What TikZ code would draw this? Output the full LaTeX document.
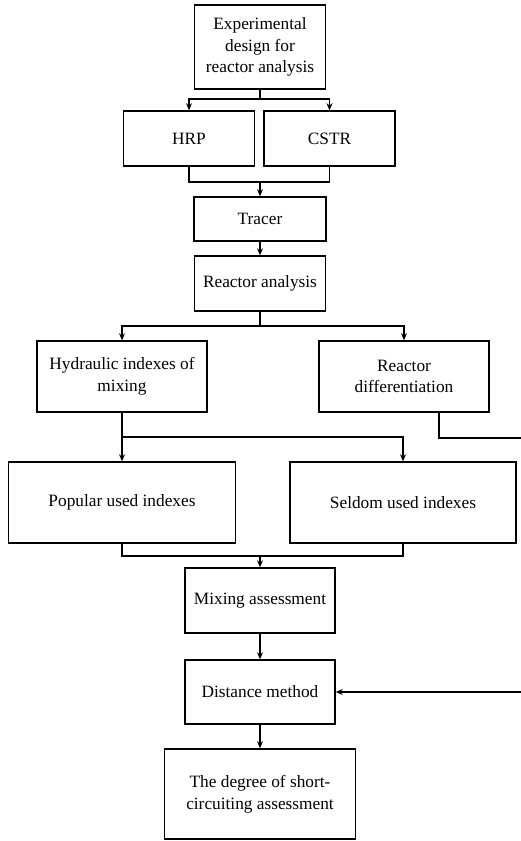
\documentclass[tikz,border=0pt]{standalone}
\usepackage{fontspec}
\setmainfont{Liberation Serif}
\usetikzlibrary{arrows.meta}
\begin{document}
\begin{tikzpicture}[x=1pt,y=-1pt,
  box/.style={draw, line width=1.5pt, align=center, inner sep=0pt,
    font=\fontsize{17.3}{21.7}\selectfont},
  conn/.style={line width=1.5pt},
  arr/.style={line width=1.5pt, -{Stealth[length=7pt,width=6pt]}}]
\useasboundingbox (0,0) rectangle (521,841);
\node[box, minimum width=131pt, minimum height=84pt] (top) at (260,47) {Experimental\\design for\\reactor analysis};
\node[box, minimum width=131pt, minimum height=55pt] (hrp) at (189,138.5) {HRP};
\node[box, minimum width=131pt, minimum height=55pt] (cstr) at (329.5,138.5) {CSTR};
\node[box, minimum width=132pt, minimum height=44pt] (tracer) at (260,219) {Tracer};
\node[box, minimum width=131pt, minimum height=55pt] (ra) at (260,283.5) {Reactor analysis};
\node[box, minimum width=170pt, minimum height=71pt] (hyd) at (122,376.5) {Hydraulic indexes of\\mixing};
\node[box, minimum width=170pt, minimum height=71pt] (rd) at (404,376.5) {Reactor\\differentiation};
\node[box, minimum width=227pt, minimum height=81pt] (pop) at (122,502.5) {Popular used indexes};
\node[box, minimum width=226pt, minimum height=81pt] (sel) at (403,502.5) {Seldom used indexes};
\node[box, minimum width=150pt, minimum height=65pt] (mix) at (260,600.5) {Mixing assessment};
\node[box, minimum width=150pt, minimum height=64pt] (dist) at (260,692) {Distance method};
\node[box, minimum width=191pt, minimum height=90pt] (deg) at (260,794) {The degree of short-\\circuiting assessment};
\coordinate (j1) at (260,99);
\coordinate (j2) at (260,182);
\coordinate (j3) at (260,326);
\coordinate (j4) at (122,437);
\coordinate (j5) at (260,556);
\coordinate (e1) at (522,438);
\coordinate (e2) at (522,692);
\draw[conn] (top.south) -- (j1);
\draw[arr] (j1) -| (hrp.north);
\draw[arr] (j1) -| (cstr.north);
\draw[conn] (hrp.south) |- (j2) -| (cstr.south);
\draw[arr] (j2) -- (tracer.north);
\draw[arr] (tracer.south) -- (ra.north);
\draw[conn] (ra.south) -- (j3);
\draw[arr] (j3) -| (hyd.north);
\draw[arr] (j3) -| (rd.north);
\draw[arr] (hyd.south) -- (pop.north);
\draw[arr] (j4) -| (sel.north);
\draw[conn] (pop.south) |- (j5) -| (sel.south);
\draw[arr] (j5) -- (mix.north);
\draw[arr] (mix.south) -- (dist.north);
\draw[arr] (dist.south) -- (deg.north);
\draw[conn] ([xshift=35pt]rd.south) |- (e1);
\draw[arr] (e2) -- (dist.east);
\end{tikzpicture}
\end{document}
